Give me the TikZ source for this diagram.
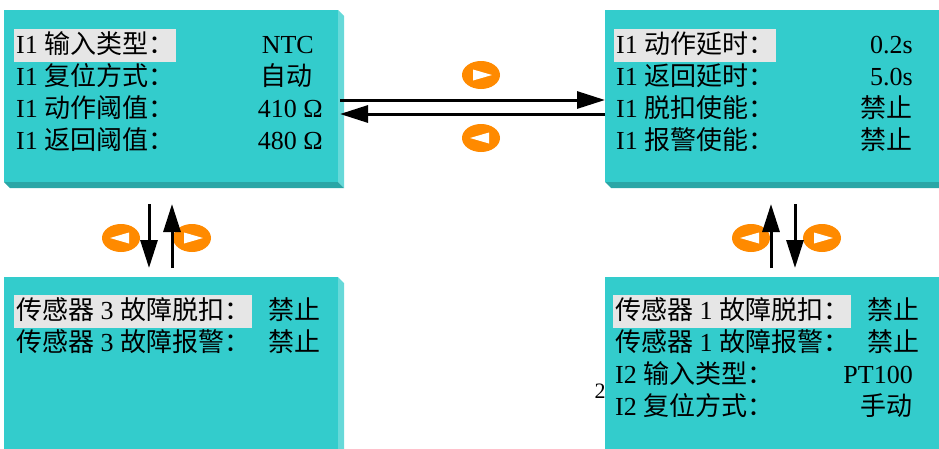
\documentclass[tikz,border=0pt]{standalone}
\usepackage{fontspec}
\setmainfont{Liberation Serif}
\newfontfamily\cjk{Noto Sans CJK SC}
\usetikzlibrary{arrows.meta, positioning, shapes.geometric}
\definecolor{face}{HTML}{33CCCC}
\definecolor{sidelit}{HTML}{66D9D9}
\definecolor{sidedark}{HTML}{2AA6A6}
\definecolor{hilite}{HTML}{E6E6E6}
\definecolor{keyorange}{HTML}{FF8A00}

\begin{document}
\begin{tikzpicture}[x=1pt, y=-1pt,
  panel/.style={fill=face, minimum width=334pt, minimum height=172pt, inner sep=0pt, outer sep=0pt},
  row/.style={anchor=west, inner xsep=2pt, inner ysep=2.5pt, text height=22pt, text depth=6pt,
    font=\fontsize{26}{32}\selectfont},
  val/.style={row, anchor=east, inner xsep=0pt},
  key/.style={ellipse, fill=keyorange, minimum width=38pt, minimum height=28pt, inner sep=0pt},
  link/.style={line width=3pt, -{Triangle[length=28pt, width=17pt]}}]
  \useasboundingbox (0,0) rectangle (939,448);
  % Panels
  \node[panel] (input) at (171,96) {};
  \node[panel] (delay) at (772,96) {};
  \node[panel] (sensor3) at (171,363) {};
  \node[panel] (sensor1) at (772,363) {};
  \foreach \p in {input, delay, sensor3, sensor1} {
    \fill[sidelit] (\p.north east) -- ++(6,6) -- ([shift={(6,6)}]\p.south east) -- (\p.south east) -- cycle;
    \fill[sidedark] (\p.south west) -- (\p.south east) -- ++(6,6) -- ([shift={(6,6)}]\p.south west) -- cycle;
  }
  % Input panel rows
  \foreach \bg/\lab/\v/\vx [count=\i] in {hilite/{I1 \cjk 输入类型：}/NTC/314,
      none/{I1 \cjk 复位方式：}/{\cjk 自动}/313, none/{I1 \cjk 动作阈值：}/410 Ω/323,
      none/{I1 \cjk 返回阈值：}/480 Ω/323} {
    \node[row, fill=\bg] (inL\i) at (14,13.5+32*\i) {\lab};
    \node[val] (inV\i) at (\vx,13.5+32*\i) {\v};
  }
  % Delay panel rows
  \foreach \bg/\lab/\v [count=\i] in {hilite/{I1 \cjk 动作延时：}/0.2s,
      none/{I1 \cjk 返回延时：}/5.0s, none/{I1 \cjk 脱扣使能：}/{\cjk 禁止},
      none/{I1 \cjk 报警使能：}/{\cjk 禁止}} {
    \node[row, fill=\bg] (dlL\i) at (614,13.5+32*\i) {\lab};
    \node[val] (dlV\i) at (913,13.5+32*\i) {\v};
  }
  % Sensor 3 panel rows
  \foreach \bg/\lab [count=\i] in {hilite/{{\cjk 传感器} 3 {\cjk 故障脱扣：}},
      none/{{\cjk 传感器} 3 {\cjk 故障报警：}}} {
    \node[row, fill=\bg] (s3L\i) at (14,279.5+32*\i) {\lab};
    \node[val] (s3V\i) at (321,279.5+32*\i) {\cjk 禁止};
  }
  % Sensor 1 panel rows
  \foreach \bg/\lab/\v/\vx [count=\i] in {hilite/{{\cjk 传感器} 1 {\cjk 故障脱扣：}}/{\cjk 禁止}/920,
      none/{{\cjk 传感器} 1 {\cjk 故障报警：}}/{\cjk 禁止}/920,
      none/{I2 \cjk 输入类型：}/PT100/913, none/{I2 \cjk 复位方式：}/{\cjk 手动}/913} {
    \node[row, fill=\bg] (s1L\i) at (613,279.5+32*\i) {\lab};
    \node[val] (s1V\i) at (\vx,279.5+32*\i) {\v};
  }
  \node[font=\fontsize{22}{22}\selectfont, inner sep=0pt] (pageno) at (600,391) {2};
  % Key symbols
  \foreach \n/\x/\y/\d in {fwdKey/481/75/1, backKey/481/138/-1, sThreeL/121/238/-1,
      sThreeR/192/238/1, sOneL/751/238/-1, sOneR/822/238/1} {
    \node[key] (\n) at (\x,\y) {};
    \fill[white] ([shift={(-8*\d,-5.5)}]\n.center) -- ([shift={(-8*\d,5.5)}]\n.center)
      -- ([shift={(11*\d,0)}]\n.center) -- cycle;
  }
  % Links
  \draw[link] ([xshift=2pt, yshift=-4pt]input.east) -- ([yshift=-4pt]delay.west);
  \draw[link] ([yshift=-18pt]delay.west) -- ([xshift=2pt, yshift=-18pt]input.east);
  \draw[link, shorten <=22pt, shorten >=9pt] ([xshift=-22pt]input.south) -- ([xshift=-22pt]sensor3.north);
  \draw[link, shorten <=9pt, shorten >=22pt] ([xshift=1pt]sensor3.north) -- ([xshift=1pt]input.south);
  \draw[link, shorten <=9pt, shorten >=22pt] ([xshift=-1pt]sensor1.north) -- ([xshift=-1pt]delay.south);
  \draw[link, shorten <=22pt, shorten >=9pt] ([xshift=23pt]delay.south) -- ([xshift=23pt]sensor1.north);
\end{tikzpicture}
\end{document}
